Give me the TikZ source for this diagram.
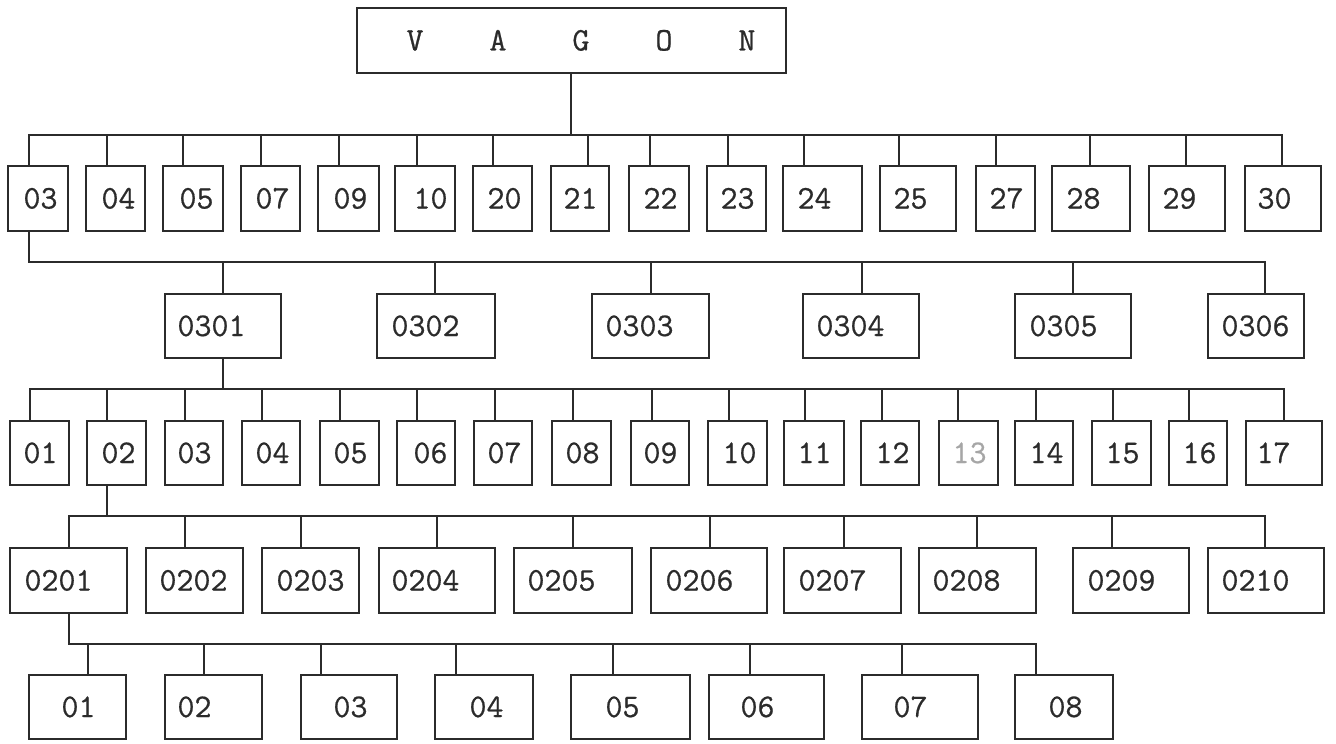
\documentclass[tikz,border=0pt]{standalone}
\usepackage{fontspec}
\newfontfamily\twfont[FakeBold=0.6]{Latin Modern Mono}
\definecolor{ink}{HTML}{2B2B2B}
\tikzset{
  box/.style={draw=ink, line width=1.4pt, inner xsep=0pt, inner ysep=0pt, align=left,
    font=\fontsize{16.5}{18}\selectfont\twfont, text height=10pt, text depth=0pt},
  conn/.style={draw=ink, line width=1.3pt, line cap=rect}
}
\newcommand\Bx[8]{%
  \pgfmathsetmacro\myW{(#3-#2)*0.5}%
  \pgfmathsetmacro\myH{(#5-#4)*0.5}%
  \pgfmathsetmacro\myO{(#6-#2-1.5)*0.5}%
  \pgfmathsetmacro\myX{(#2+#3)/2}%
  \pgfmathsetmacro\myY{(#4+#5)/2}%
  \node[box, text=#8, minimum width=\myW pt, minimum height=\myH pt, text width=\myW pt] (#1) at (\myX,\myY) {\hspace*{\myO pt}#7};%
}
\begin{document}
\begin{tikzpicture}[x=0.5pt,y=-0.5pt]
\path[use as bounding box, fill=white] (0,0) rectangle (1336,743);

% top
\Bx{vagon}{357}{786}{8}{73}{408}{V\hspace{33pt}A\hspace{33pt}G\hspace{33pt}O\hspace{33pt}N}{ink}

% row 1
\foreach \n/\a/\b/\t/\k in {03/8/68/25/29, 04/86/145/103/107, 05/163/223/181/183,
  07/241/300/257/261, 09/318/379/335/339, 10/395/455/415/417, 20/473/532/489/493,
  21/551/609/565/588, 22/629/689/645/650, 23/707/766/722/728, 24/783/862/799/804,
  25/880/956/895/899, 27/976/1035/991/996, 28/1052/1130/1068/1090,
  29/1149/1225/1164/1186, 30/1245/1321/1259/1282}{
  \Bx{r1n\n}{\a}{\b}{166}{231}{\t}{\n}{ink}
  \draw[conn] (vagon.south -| 571,0) |- (\k,135) -- (r1n\n.north -| \k,0);
}

% row 2
\foreach \n/\a/\b/\t/\k in {0301/165/281/179/223, 0302/377/495/393/435,
  0303/592/709/607/651, 0304/803/919/818/862, 0305/1015/1131/1031/1073,
  0306/1208/1304/1223/1265}{
  \Bx{r2n\n}{\a}{\b}{294}{358}{\t}{\n}{ink}
  \draw[conn] (r1n03.south -| 29,0) |- (\k,262) -- (r2n\n.north -| \k,0);
}

% row 3
\foreach \n/\a/\b/\t/\k/\c in {01/10/69/25/30/ink, 02/87/146/103/107/ink,
  03/165/223/179/185/ink, 04/242/300/257/262/ink, 05/320/379/335/340/ink,
  06/397/455/415/417/ink, 07/474/532/489/495/ink, 08/552/611/567/573/ink,
  09/631/689/645/652/ink, 10/708/767/724/729/ink, 11/784/844/799/805/ink,
  12/861/919/877/882/ink, 13/939/998/954/958/black!35, 14/1015/1073/1031/1036/ink,
  15/1092/1151/1107/1113/ink, 16/1169/1227/1184/1189/ink, 17/1246/1322/1258/1284/ink}{
  \Bx{r3n\n}{\a}{\b}{421}{485}{\t}{\n}{\c}
  \draw[conn] (r2n0301.south -| 223,0) |- (\k,389) -- (r3n\n.north -| \k,0);
}

% row 4
\foreach \n/\a/\b/\t/\k in {0201/10/127/26/69, 0202/146/243/161/185,
  0203/262/359/278/301, 0204/379/495/393/437, 0205/514/632/529/573,
  0206/651/767/667/710, 0207/784/901/800/844, 0208/919/1036/934/977,
  0209/1073/1189/1089/1112, 0210/1208/1324/1223/1265}{
  \Bx{r4n\n}{\a}{\b}{548}{613}{\t}{\n}{ink}
  \draw[conn] (r3n02.south -| 107,0) |- (\k,516) -- (r4n\n.north -| \k,0);
}

% row 5
\foreach \n/\a/\b/\t/\k in {01/29/126/63/88, 02/165/262/179/204,
  03/301/397/335/321, 04/435/533/471/456, 05/571/690/607/613,
  06/709/824/742/750, 07/862/978/895/902, 08/1015/1113/1050/1036}{
  \Bx{r5n\n}{\a}{\b}{675}{739}{\t}{\n}{ink}
  \draw[conn] (r4n0201.south -| 69,0) |- (\k,644) -- (r5n\n.north -| \k,0);
}
\end{tikzpicture}
\end{document}
